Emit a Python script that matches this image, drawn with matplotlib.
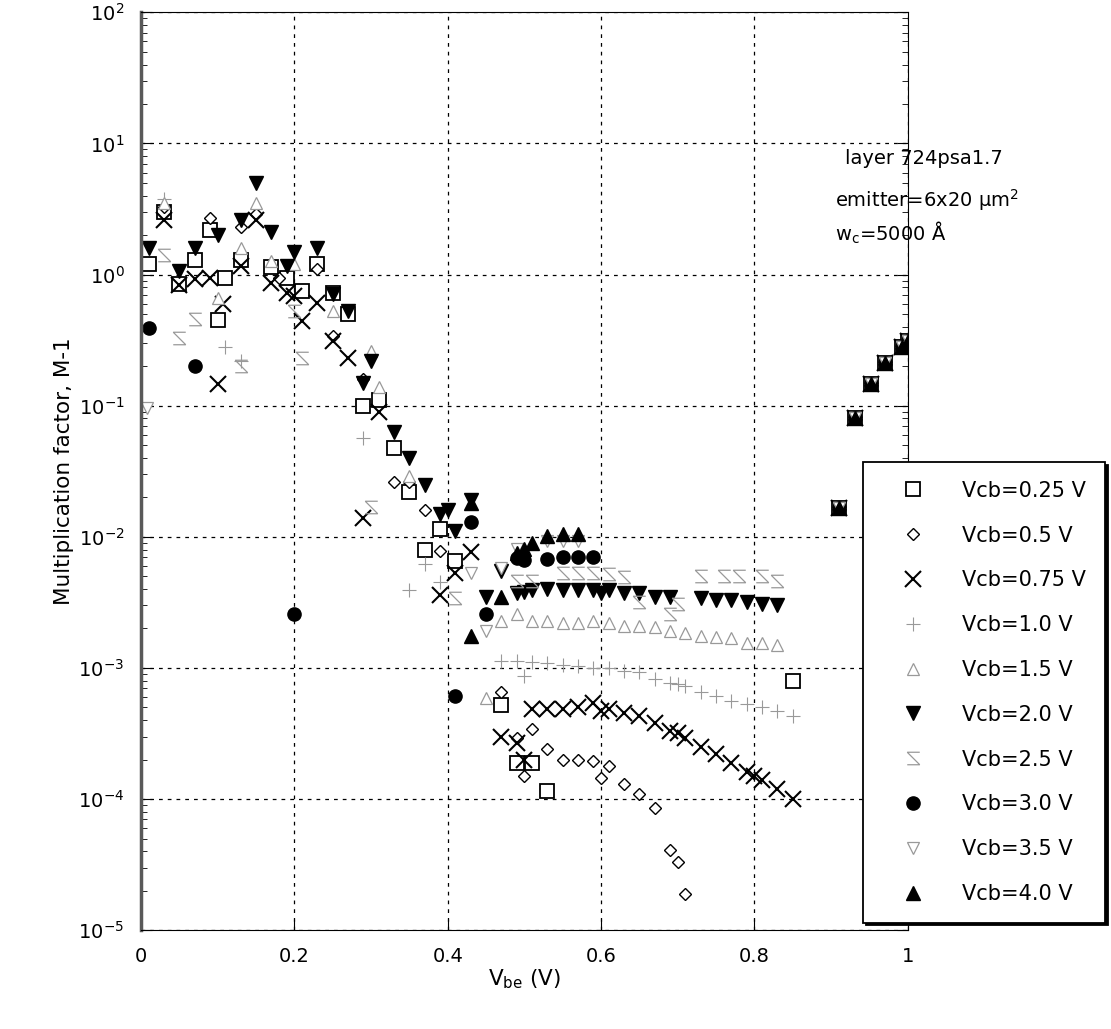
import numpy as np
import matplotlib
matplotlib.use("Agg")
from matplotlib import pyplot as plt
from matplotlib.path import Path

plt.rcParams['font.family'] = ['DejaVu Sans']
plt.rcParams['mathtext.fontset'] = 'dejavusans'
plt.rcParams['mathtext.default'] = 'regular'
plt.rcParams['axes.unicode_minus'] = False

# shared points at high Vbe (all curves coincide)
x_tail = [0.911, 0.931, 0.952, 0.971, 0.992, 1.0]
y_tail = [0.0167, 0.081, 0.147, 0.21, 0.28, 0.31]

x_025 = [0.01, 0.03, 0.05, 0.07, 0.09, 0.10, 0.11, 0.13, 0.17, 0.19, 0.21, 0.23, 0.25, 0.27,
         0.29, 0.31, 0.33, 0.35, 0.37, 0.39, 0.41, 0.47, 0.49, 0.51, 0.53, 0.85]
y_025 = [1.2, 3.0, 0.85, 1.3, 2.2, 0.45, 0.95, 1.3, 1.15, 0.95, 0.75, 1.2, 0.72, 0.5,
         0.1, 0.11, 0.048, 0.022, 0.008, 0.0115, 0.0066, 5.2e-4, 1.9e-4, 1.9e-4, 1.15e-4, 8.0e-4]

x_05 = [0.03, 0.09, 0.13, 0.15, 0.18, 0.23, 0.25, 0.29, 0.30, 0.33, 0.35, 0.37, 0.39,
        0.47, 0.49, 0.50, 0.51, 0.53, 0.55, 0.57, 0.59, 0.60, 0.61, 0.63, 0.65, 0.67,
        0.69, 0.70, 0.71]
y_05 = [3.3, 2.7, 2.3, 2.9, 0.95, 1.1, 0.34, 0.16, 0.24, 0.026, 0.026, 0.016, 0.0078,
        6.5e-4, 2.9e-4, 1.5e-4, 3.4e-4, 2.4e-4, 2.0e-4, 2.0e-4, 1.95e-4, 1.45e-4, 1.8e-4,
        1.3e-4, 1.1e-4, 8.5e-5, 4.1e-5, 3.3e-5, 1.9e-5]

x_075 = [0.03, 0.05, 0.07, 0.09, 0.10, 0.107, 0.13, 0.15, 0.17, 0.19, 0.20, 0.21, 0.23, 0.25,
         0.27, 0.29, 0.31, 0.39, 0.41, 0.43, 0.47, 0.49, 0.50, 0.51, 0.53, 0.55, 0.57, 0.59,
         0.60, 0.61, 0.63, 0.65, 0.67, 0.69, 0.70, 0.71, 0.73, 0.75, 0.77, 0.79, 0.80, 0.81,
         0.83, 0.85]
y_075 = [2.6, 0.83, 0.93, 0.95, 0.147, 0.6, 1.17, 2.6, 0.87, 0.73, 0.69, 0.44, 0.61, 0.31,
         0.23, 0.014, 0.09, 0.0036, 0.0053, 0.0076, 3.0e-4, 2.7e-4, 2.0e-4, 4.9e-4, 4.9e-4,
         4.9e-4, 5.0e-4, 5.4e-4, 4.7e-4, 4.9e-4, 4.5e-4, 4.3e-4, 3.8e-4, 3.3e-4, 3.2e-4,
         2.9e-4, 2.5e-4, 2.2e-4, 1.9e-4, 1.6e-4, 1.5e-4, 1.4e-4, 1.2e-4, 1.0e-4]

x_10 = [0.03, 0.11, 0.13, 0.29, 0.35, 0.37, 0.39, 0.47, 0.49, 0.50, 0.51, 0.53, 0.55, 0.57,
        0.59, 0.61, 0.63, 0.65, 0.67, 0.69, 0.70, 0.71, 0.73, 0.75, 0.77, 0.79, 0.81, 0.83, 0.85]
y_10 = [3.8, 0.28, 0.22, 0.057, 3.9e-3, 6.2e-3, 4.5e-3, 1.13e-3, 1.13e-3, 8.7e-4, 1.12e-3,
        1.1e-3, 1.05e-3, 1.03e-3, 1.0e-3, 1.0e-3, 9.5e-4, 9.3e-4, 8.3e-4, 7.7e-4, 7.5e-4,
        7.3e-4, 6.5e-4, 6.1e-4, 5.6e-4, 5.3e-4, 5.0e-4, 4.7e-4, 4.3e-4]

x_15 = [0.03, 0.10, 0.13, 0.15, 0.17, 0.20, 0.25, 0.30, 0.31, 0.35, 0.45, 0.47, 0.49, 0.51,
        0.53, 0.55, 0.57, 0.59, 0.61, 0.63, 0.65, 0.67, 0.69, 0.71, 0.73, 0.75, 0.77, 0.79,
        0.81, 0.83]
y_15 = [3.5, 0.66, 1.6, 3.5, 1.28, 1.2, 0.53, 0.26, 0.14, 0.029, 5.9e-4, 2.3e-3, 2.6e-3,
        2.3e-3, 2.3e-3, 2.2e-3, 2.2e-3, 2.3e-3, 2.2e-3, 2.1e-3, 2.1e-3, 2.05e-3, 1.9e-3,
        1.85e-3, 1.75e-3, 1.72e-3, 1.7e-3, 1.55e-3, 1.55e-3, 1.5e-3]

x_20 = [0.01, 0.05, 0.07, 0.10, 0.13, 0.15, 0.17, 0.19, 0.20, 0.23, 0.25, 0.27, 0.29, 0.30,
        0.33, 0.35, 0.37, 0.39, 0.40, 0.41, 0.43, 0.45, 0.47, 0.49, 0.50, 0.51, 0.53, 0.55,
        0.57, 0.59, 0.60, 0.61, 0.63, 0.65, 0.67, 0.69, 0.73, 0.75, 0.77, 0.79, 0.81, 0.83]
y_20 = [1.6, 1.07, 1.6, 2.0, 2.6, 5.0, 2.1, 1.17, 1.5, 1.6, 0.71, 0.53, 0.15, 0.22,
        0.063, 0.04, 0.025, 0.015, 0.016, 0.011, 0.019, 3.5e-3, 5.5e-3, 3.7e-3, 3.8e-3,
        3.9e-3, 4.0e-3, 3.9e-3, 3.9e-3, 3.9e-3, 3.7e-3, 3.9e-3, 3.7e-3, 3.7e-3, 3.5e-3,
        3.5e-3, 3.4e-3, 3.3e-3, 3.3e-3, 3.2e-3, 3.1e-3, 3.0e-3]

x_25 = [0.03, 0.05, 0.07, 0.13, 0.20, 0.21, 0.30, 0.41, 0.49, 0.51, 0.55, 0.57, 0.59, 0.61,
        0.63, 0.65, 0.69, 0.70, 0.73, 0.76, 0.78, 0.81, 0.83]
y_25 = [1.4, 0.33, 0.46, 0.2, 0.53, 0.23, 0.017, 3.4e-3, 4.6e-3, 4.6e-3, 5.3e-3, 5.3e-3,
        5.3e-3, 5.2e-3, 4.9e-3, 3.2e-3, 2.6e-3, 3.1e-3, 5.0e-3, 5.0e-3, 5.0e-3, 5.0e-3, 4.6e-3]

x_30 = [0.01, 0.07, 0.20, 0.41, 0.43, 0.45, 0.49, 0.50, 0.53, 0.55, 0.57, 0.59]
y_30 = [0.39, 0.2, 2.6e-3, 6.1e-4, 0.0129, 2.6e-3, 6.9e-3, 6.7e-3, 6.8e-3, 7.0e-3, 7.0e-3, 7.0e-3]

x_35 = [0.008, 0.43, 0.45, 0.47, 0.49, 0.53, 0.55, 0.57]
y_35 = [0.096, 5.3e-3, 1.9e-3, 5.8e-3, 8.1e-3, 9.3e-3, 9.3e-3, 9.3e-3]

x_40 = [0.43, 0.43, 0.47, 0.49, 0.50, 0.51, 0.53, 0.55, 0.57]
y_40 = [1.75e-3, 0.018, 3.5e-3, 7.5e-3, 8.1e-3, 9.0e-3, 0.0102, 0.0105, 0.0105]

labels = ['Vcb=0.25 V', 'Vcb=0.5 V', 'Vcb=0.75 V', 'Vcb=1.0 V', 'Vcb=1.5 V',
          'Vcb=2.0 V', 'Vcb=2.5 V', 'Vcb=3.0 V', 'Vcb=3.5 V', 'Vcb=4.0 V']

# mirrored "Z" marker used for Vcb=2.5 V
zmark = Path([(-1, 1), (1, 1), (-1, 1), (1, -1), (-1, -1), (1, -1)],
             [Path.MOVETO, Path.LINETO, Path.MOVETO, Path.LINETO, Path.MOVETO, Path.LINETO])

gray = '0.6'
styles = [
    dict(marker='s', ms=9.5, mfc='white', mec='black', mew=1.3),
    dict(marker='D', ms=6.5, mfc='white', mec='black', mew=1.0),
    dict(marker='x', ms=11, color='black', mew=1.5),
    dict(marker='+', ms=10, color=gray, mew=0.8),
    dict(marker='^', ms=9, mfc='white', mec=gray, mew=0.9),
    dict(marker='v', ms=10.5, color='black'),
    dict(marker=zmark, ms=9, color=gray, mew=0.9),
    dict(marker='o', ms=9.5, color='black'),
    dict(marker='v', ms=9, mfc='white', mec=gray, mew=0.9),
    dict(marker='^', ms=10.5, color='black'),
]

series = [(x_025, y_025), (x_05, y_05), (x_075, y_075), (x_10, y_10), (x_15, y_15),
          (x_20, y_20), (x_25, y_25), (x_30, y_30), (x_35, y_35), (x_40, y_40)]

fig = plt.figure(figsize=(11.11, 10.29), dpi=100)
ax = fig.add_axes([0.127, 0.096, 0.690, 0.892])
ax.set_axisbelow(True)

handles = []
for (xs, ys), st, lab in zip(series, styles, labels):
    h, = ax.plot(list(xs) + x_tail, list(ys) + y_tail, linestyle='none', label=lab, **st)
    handles.append(h)

ax.set_yscale('log')
ax.set_xlim(0, 1)
ax.set_ylim(1e-5, 1e2)
ax.set_xticks([0, 0.2, 0.4, 0.6, 0.8, 1.0])
ax.set_xticklabels(['0', '0.2', '0.4', '0.6', '0.8', '1'])
ax.grid(True, which='major', color='black', linestyle=(0, (3, 4)), linewidth=0.9)
ax.tick_params(which='both', direction='in', left=True, right=True, top=False,
               labelsize=14, pad=12)
ax.tick_params(which='major', length=8)
ax.tick_params(which='minor', length=4)
ax.spines['left'].set_linewidth(2.5)
ax.spines['left'].set_color('0.35')

ax.set_ylabel('Multiplication factor, M-1', fontsize=15.5, labelpad=3)
ax.set_xlabel('V$_{be}$ (V)', fontsize=15.5, labelpad=1)

ax.text(0.918, 0.841, 'layer 724psa1.7', transform=ax.transAxes, ha='left', va='center',
        fontsize=14)
ax.text(0.905, 0.795, 'emitter=6x20 $\\mu$m$^2$', transform=ax.transAxes, ha='left',
        va='center', fontsize=14)
ax.text(0.905, 0.760, 'w$_c$=5000 Å', transform=ax.transAxes, ha='left', va='center',
        fontsize=14)

leg = fig.legend(handles=handles, loc='upper left', bbox_to_anchor=(0.777, 0.551),
                 borderaxespad=0, fontsize=15, labelspacing=1.19, frameon=True,
                 fancybox=False, edgecolor='black', handletextpad=0.85, borderpad=0.9,
                 handlelength=3.0, shadow={'color': 'black', 'alpha': 1})
leg.get_frame().set_linewidth(1.3)
leg.set_zorder(10)

fig.savefig('out.png', dpi=100)
